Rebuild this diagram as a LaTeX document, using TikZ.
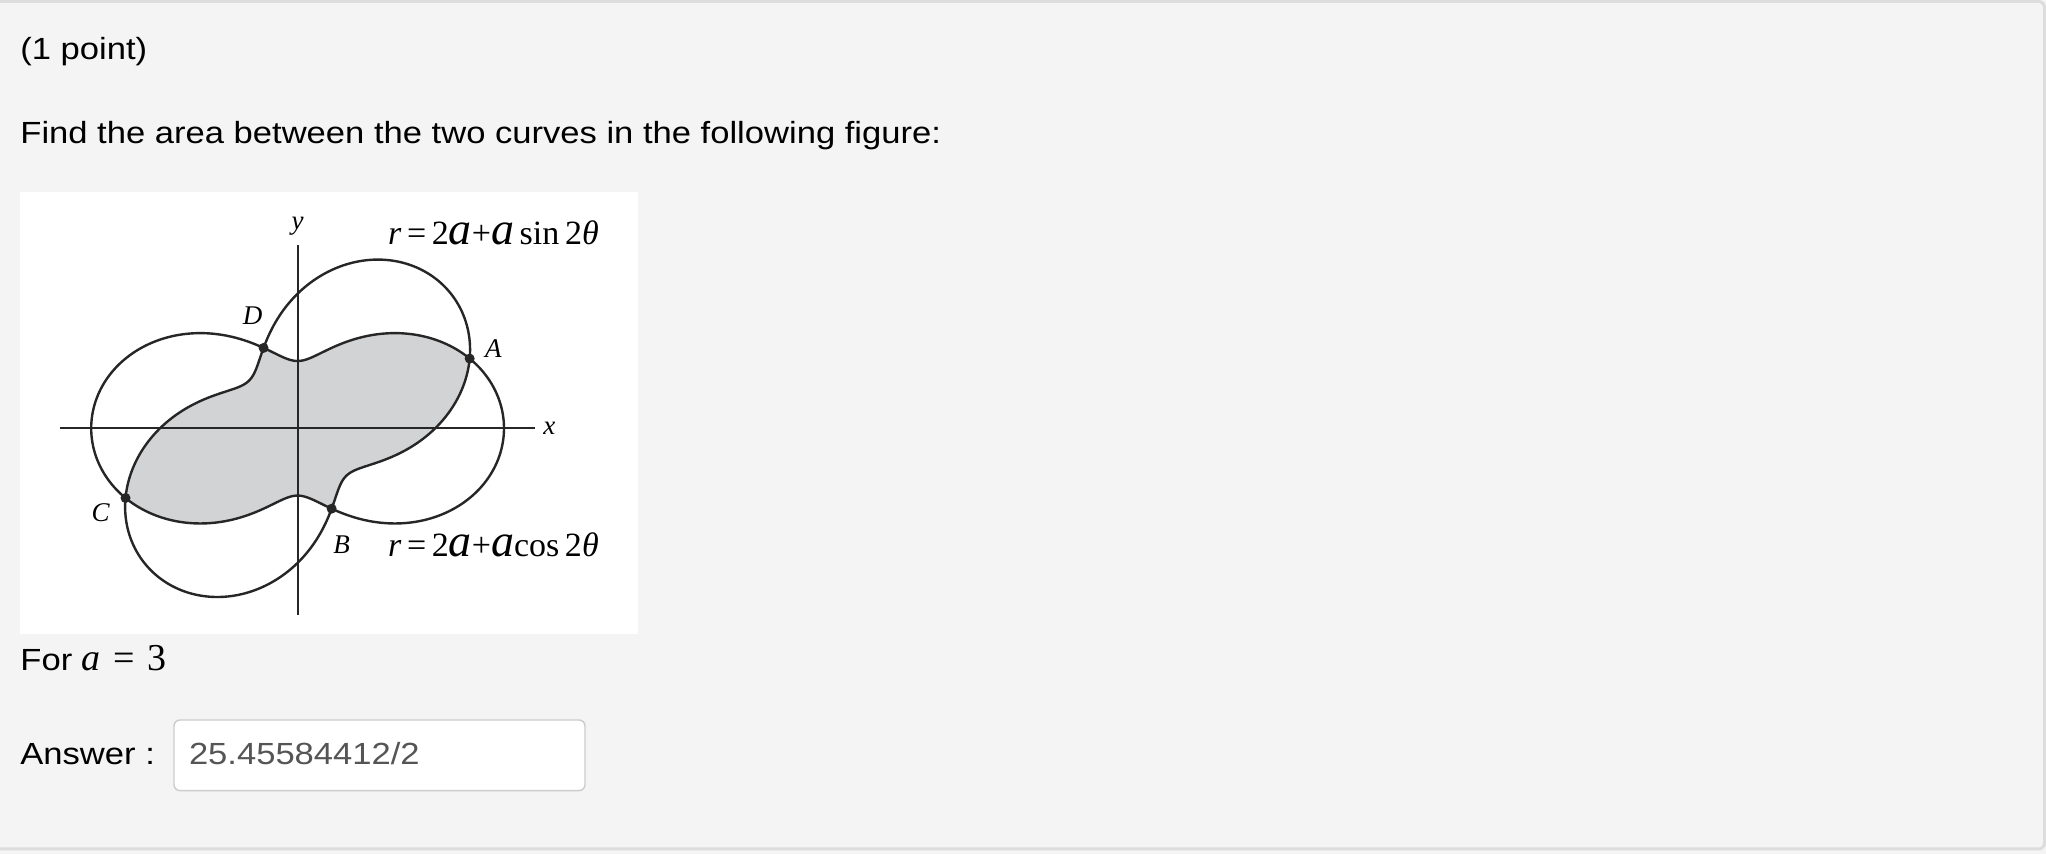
\documentclass[tikz,border=0pt]{standalone}
\usepackage{fontspec}
\setmainfont[FakeStretch=1.13]{Liberation Sans}
\newfontfamily\figfont{Liberation Serif}
\usetikzlibrary{positioning}
\definecolor{pagebg}{HTML}{F4F4F4}
\definecolor{panelline}{HTML}{DDDDDD}
\definecolor{curvecol}{HTML}{262626}
\definecolor{shadecol}{HTML}{D2D3D5}
\definecolor{boxline}{HTML}{CCCCCC}
\definecolor{anscol}{HTML}{555555}
\tikzset{
	qtext/.style={anchor=base west, inner sep=0pt, font=\fontsize{15.3}{18}\selectfont},
	curve/.style={draw=curvecol, line width=1.2pt},
	axis/.style={draw=curvecol, line width=0.9pt},
	pnt/.style={circle, fill=curvecol, inner sep=0pt, minimum size=5pt},
	ptlabel/.style={inner sep=0pt, font=\figfont\itshape\fontsize{13.5}{14}\selectfont},
	formula/.style={anchor=base west, inner sep=0pt, font=\figfont\fontsize{17}{18}\selectfont},
	ansbox/.style={draw=boxline, fill=white, line width=0.7pt, rounded corners=3pt,
		anchor=north west, inner sep=0pt, minimum width=205.5pt, minimum height=35.3pt},
}
\newcommand{\biga}{{\fontsize{23}{23}\selectfont\itshape a}}

\begin{document}
\begin{tikzpicture}[x=0.5pt, y=-0.5pt]
	\useasboundingbox (0,0) rectangle (2046,854);
	% page panel
	\fill[pagebg] (0,0) rectangle (2046,854);
	\draw[panelline, line width=1.5pt, rounded corners=3pt] (-10,1.5) -- (2044.5,1.5) -- (2044.5,849) -- (-10,849);
	
	\node[qtext] (points) at (20,60) {(1 point)};
	\node[qtext] (task) at (20,143.3) {Find the area between the two curves in the following figure:};
	
	% figure
	\fill[white] (19.9,192.4) rectangle (637.6,634);
	\begin{scope}[shift={(297.6,428.3)}, x=34.4pt, y=33.65pt]
		\fill[shadecol] plot[domain=0:360, samples=721] (\x:{2+min(cos(2*\x),sin(2*\x))}) -- cycle;
		\coordinate (xl) at (-3.46,0);
		\coordinate (xr) at (3.45,0);
		\coordinate (yb) at (0,-2.77);
		\coordinate (yt) at (0,2.72);
		\draw[axis] (xl) -- (xr);
		\draw[axis] (yb) -- (yt);
		\node[ptlabel, right=4pt of xr] (xlab) {x};
		\node[ptlabel, above=5pt of yt] (ylab) {y};
		\draw[curve] plot[domain=0:360, samples=361, smooth] (\x:{2+cos(2*\x)}) -- cycle;
		\draw[curve] plot[domain=0:360, samples=361, smooth] (\x:{2+sin(2*\x)}) -- cycle;
		\coordinate (A) at (22.5:2.7071);
		\coordinate (D) at (112.5:1.2929);
		\coordinate (C) at (202.5:2.7071);
		\coordinate (B) at (292.5:1.2929);
		\foreach \p in {A,B,C,D}
			\node[pnt] at (\p) {};
		\node[ptlabel] (labA) at ([xshift=11.8pt, yshift=5pt]A) {A};
		\node[ptlabel] (labB) at ([xshift=5pt, yshift=-18pt]B) {B};
		\node[ptlabel] (labC) at ([xshift=-12.5pt, yshift=-7.5pt]C) {C};
		\node[ptlabel] (labD) at ([xshift=-5.5pt, yshift=16pt]D) {D};
	\end{scope}
	\node[formula] (eqsin) at (387.6,245) {\textit{r}\,=\,2\biga+\biga\,sin\,2\textit{θ}};
	\node[formula] (eqcos) at (387.6,556.7) {\textit{r}\,=\,2\biga+\biga cos\,2\textit{θ}};
	
	% answer part
	\node[qtext] (fora) at (20,670.7) {For {\figfont\fontsize{19}{19}\selectfont\textit{a}\,\,=\,\,3}};
	\node[qtext] (answer) at (20,765) {Answer :};
	\node[ansbox] (ansfield) at (173.3,719.3) {};
	\node[qtext, text=anscol] (ansval) at (188.6,765) {25.45584412/2};
\end{tikzpicture}
\end{document}
